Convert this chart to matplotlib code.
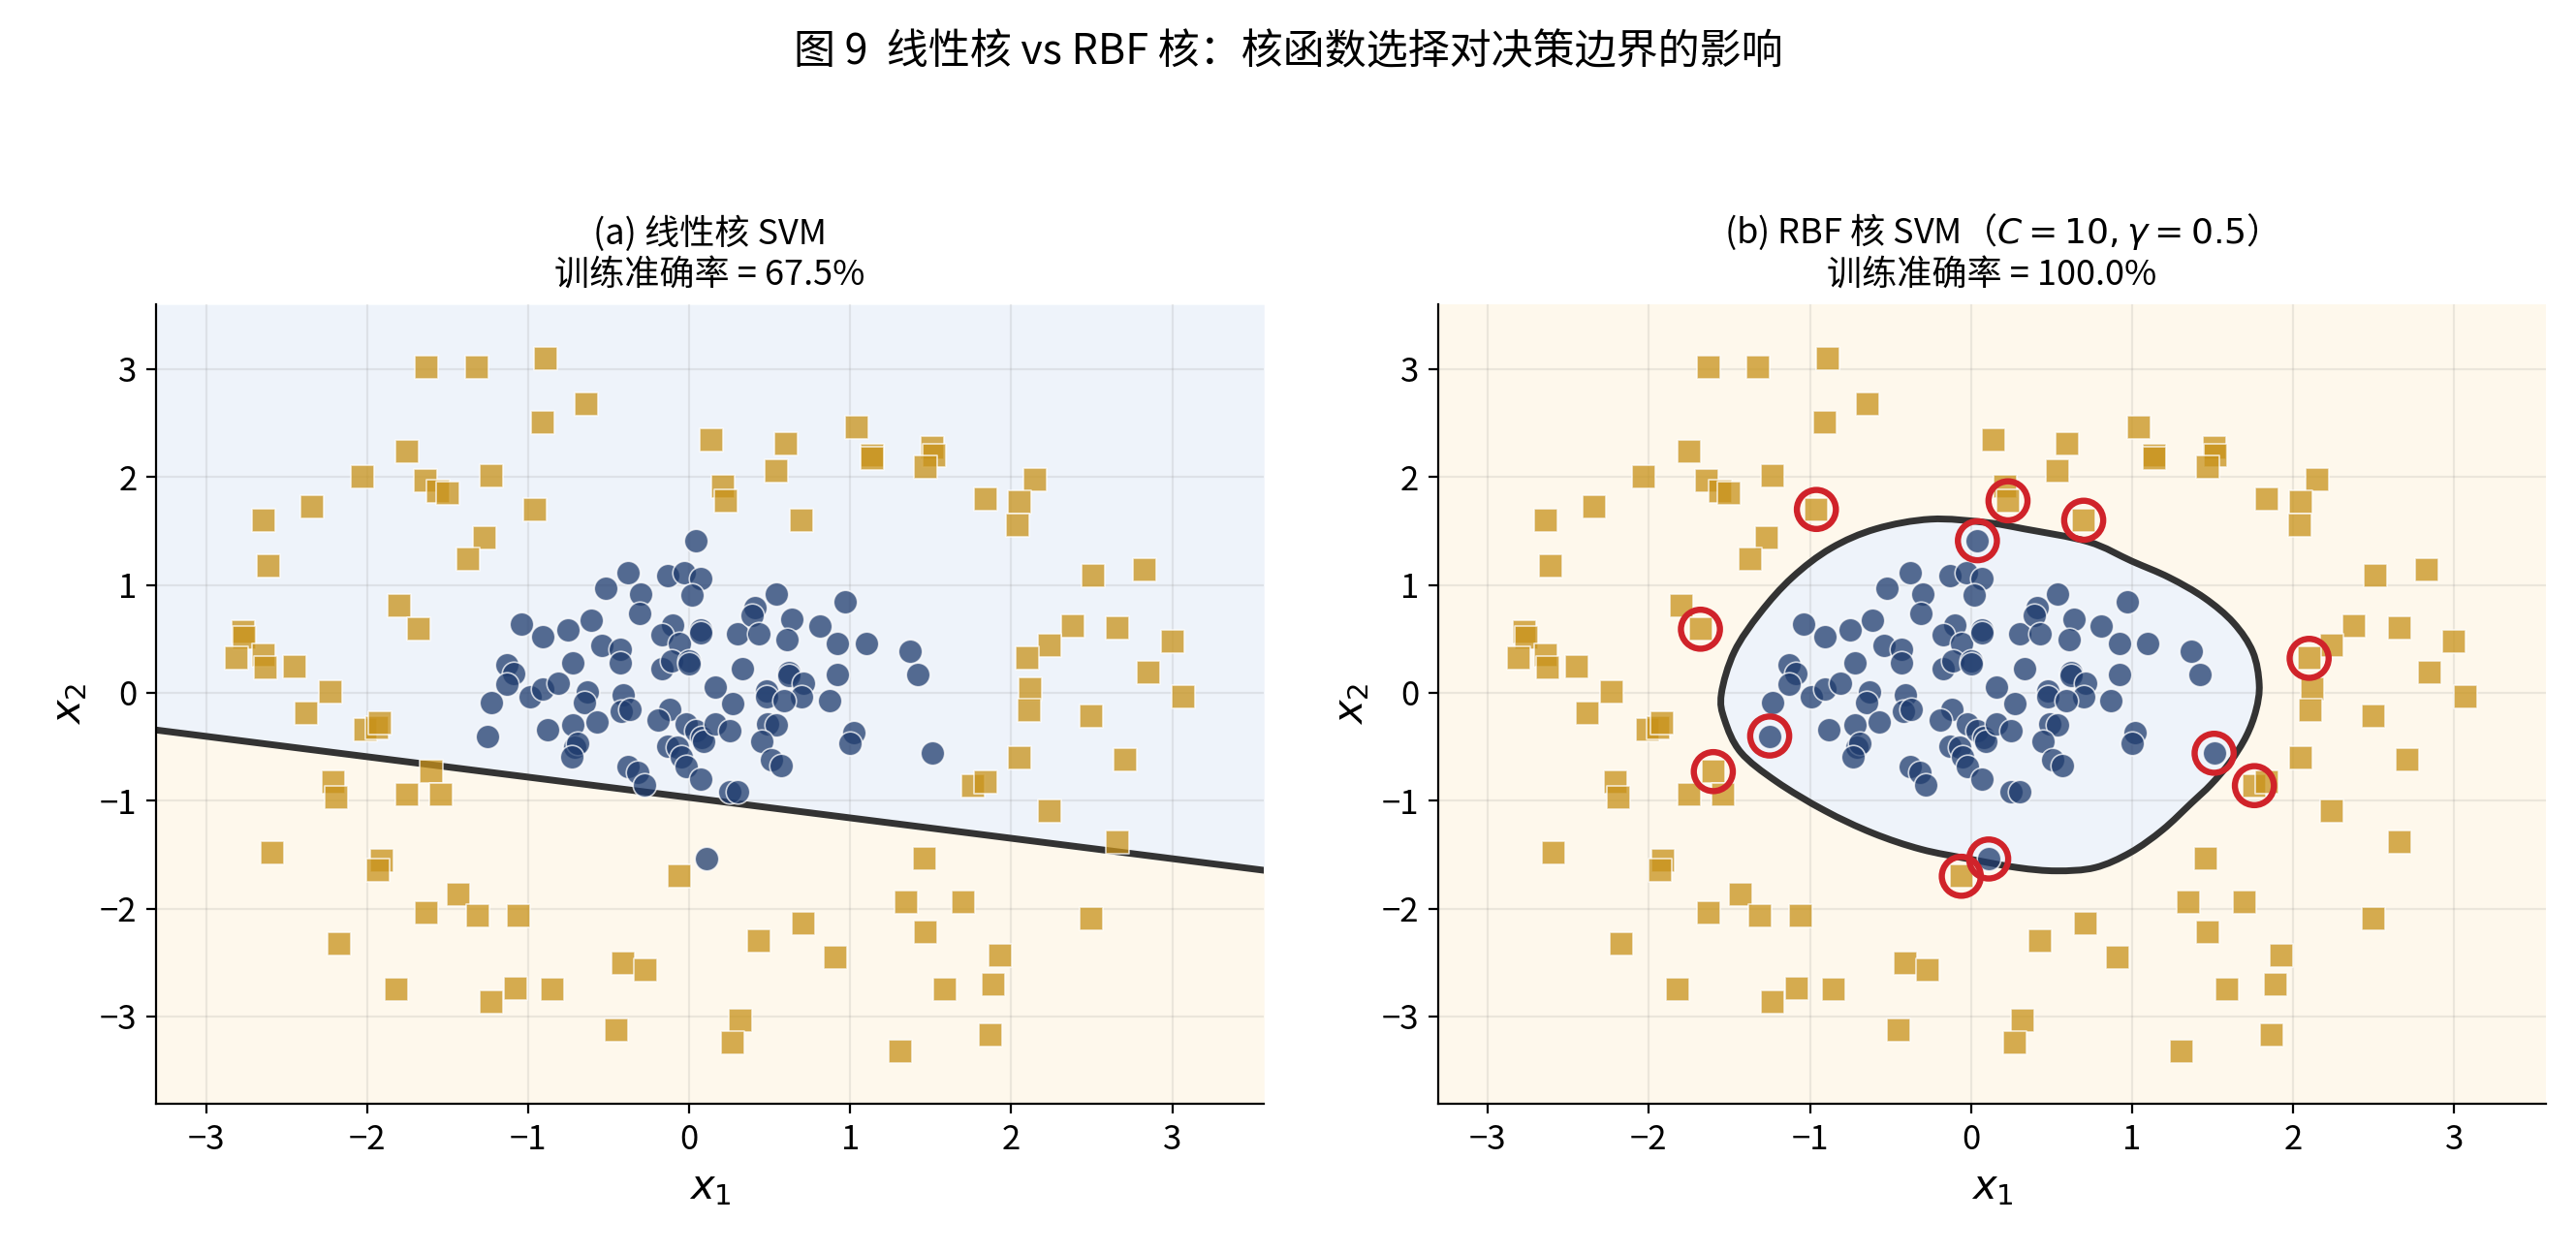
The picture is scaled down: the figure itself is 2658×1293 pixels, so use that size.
import numpy as np
import matplotlib.pyplot as plt
from matplotlib.path import Path
from matplotlib.patches import PathPatch

plt.rcParams['font.family'] = ['Noto Sans CJK SC', 'DejaVu Sans']
plt.rcParams['axes.unicode_minus'] = True

# 内圈样本（类别 +1，圆点）
inner_x = [-1.04, -0.91, -1.13, -1.09, -1.13, -1.23, -0.99, -1.25, -0.91, -0.81,
           0.04, -0.38, -0.13, -0.03, 0.07, 0.02, -0.52, -0.30, -0.31, -0.75,
           -0.61, -0.54, -0.43, -0.43, -0.72, -0.63, -0.65, -0.41, -0.10, -0.17,
           -0.06, -0.17, -0.11, 0.00, 0.00, 0.07, 0.07, 0.16, 0.27, -0.12,
           0.30, 0.41, 0.39, 0.43, 0.54, 0.64, 0.61, 0.33, 0.62, 0.62,
           0.71, 0.48, 0.48, 0.70, 0.59, 0.87, 0.81, 0.92, 0.97, 1.10,
           0.92, 1.37, 1.42, -0.42, -0.37, -0.88, -0.72, -0.57, -0.71, -0.69,
           -0.73, -0.38, -0.32, -0.28, -0.19, -0.13, -0.07, -0.05, -0.02, -0.02,
           0.04, 0.08, 0.09, 0.16, 0.25, 0.07, 0.25, 0.30, 0.49, 0.54,
           0.45, 0.51, 0.57, 1.02, 1.00, 0.11, 1.51]
inner_y = [0.64, 0.52, 0.26, 0.18, 0.08, -0.09, -0.04, -0.40, 0.04, 0.09,
           1.41, 1.11, 1.09, 1.11, 1.06, 0.91, 0.97, 0.92, 0.74, 0.58,
           0.67, 0.44, 0.40, 0.28, 0.28, 0.01, -0.09, -0.02, 0.63, 0.54,
           0.46, 0.22, 0.30, 0.30, 0.27, 0.58, 0.56, 0.05, -0.10, -0.15,
           0.55, 0.79, 0.72, 0.55, 0.92, 0.68, 0.49, 0.22, 0.19, 0.16,
           0.09, 0.02, -0.04, -0.04, -0.07, -0.07, 0.62, 0.46, 0.84, 0.46,
           0.17, 0.39, 0.17, -0.17, -0.15, -0.34, -0.30, -0.27, -0.50, -0.47,
           -0.59, -0.68, -0.74, -0.85, -0.25, -0.49, -0.50, -0.59, -0.68, -0.29,
           -0.35, -0.41, -0.45, -0.29, -0.35, -0.80, -0.92, -0.92, -0.29, -0.30,
           -0.45, -0.62, -0.67, -0.37, -0.47, -1.54, -0.56]

# 外环样本（类别 -1，方块）
outer_x = [-1.63, -1.32, -0.89, -0.91, -1.75, -2.03, -1.64, -1.56, -1.50, -1.23,
           -2.34, -2.64, -2.61, -0.96, -1.27, -1.37, -1.80, -1.68, -2.77, -2.76,
           -2.81, -2.64, -2.63, -2.45, -2.23, -0.64, 0.14, 0.21, 0.23, 0.60,
           0.54, 0.70, 1.04, 1.14, 1.14, 1.51, 1.52, 1.47, 1.84, 2.15,
           2.05, 2.04, 2.51, 2.83, 2.38, 2.66, 2.24, 2.10, 3.00, 2.85,
           2.12, 2.11, 3.07, 2.50, -2.38, -2.01, -1.94, -1.92, -1.60, -2.21,
           -2.19, -1.75, -1.54, -2.59, -1.91, -1.93, -1.43, -1.63, -1.31, -1.06,
           -2.17, -1.82, -1.23, -1.08, -0.85, -0.06, -0.41, -0.27, -0.45, 0.32,
           0.27, 0.43, 0.71, 0.91, 1.31, 2.05, 2.71, 1.76, 1.84, 2.24,
           2.66, 1.46, 1.35, 1.70, 1.47, 2.50, 1.93, 1.89, 1.59, 1.87]
outer_y = [3.02, 3.02, 3.10, 2.51, 2.24, 2.00, 1.97, 1.87, 1.85, 2.01,
           1.72, 1.60, 1.18, 1.70, 1.44, 1.24, 0.81, 0.59, 0.57, 0.51,
           0.32, 0.35, 0.23, 0.24, 0.01, 2.68, 2.34, 1.91, 1.78, 2.31,
           2.06, 1.60, 2.46, 2.20, 2.17, 2.27, 2.20, 2.09, 1.80, 1.98,
           1.77, 1.55, 1.09, 1.14, 0.62, 0.60, 0.44, 0.32, 0.48, 0.19,
           0.04, -0.16, -0.04, -0.22, -0.19, -0.34, -0.32, -0.28, -0.73, -0.83,
           -0.97, -0.94, -0.94, -1.48, -1.55, -1.64, -1.87, -2.04, -2.07, -2.07,
           -2.33, -2.75, -2.87, -2.74, -2.75, -1.70, -2.51, -2.57, -3.13, -3.04,
           -3.24, -2.30, -2.14, -2.45, -3.32, -0.60, -0.62, -0.86, -0.83, -1.10,
           -1.38, -1.54, -1.94, -1.94, -2.22, -2.09, -2.43, -2.70, -2.75, -3.17]

# RBF 核的支持向量
sv_x = [-0.96, 0.23, 0.04, 0.70, -1.68, 2.10, -1.25, -1.60, 1.51, 1.76, 0.11, -0.06]
sv_y = [1.70, 1.78, 1.41, 1.60, 0.59, 0.32, -0.40, -0.73, -0.56, -0.86, -1.54, -1.70]

# 线性核决策边界 y = slope * x + intercept
lin_slope = -0.189
lin_intercept = -0.97

# RBF 核决策边界（从图中读取的轮廓点）
bnd_x = [-0.25, -0.59, -0.87, -1.11, -1.31, -1.47, -1.55, -1.53, -1.43, -1.21,
         -0.91, -0.61, -0.31, -0.01, 0.29, 0.53, 0.77, 0.99, 1.19, 1.37,
         1.49, 1.61, 1.71, 1.77, 1.79, 1.75, 1.63, 1.45, 1.23, 1.00,
         0.73, 0.33, 0.09]
bnd_y = [1.61, 1.52, 1.34, 1.07, 0.74, 0.38, -0.01, -0.25, -0.55, -0.82,
         -1.09, -1.30, -1.45, -1.54, -1.62, -1.65, -1.62, -1.48, -1.27, -1.02,
         -0.85, -0.64, -0.40, -0.16, 0.08, 0.38, 0.65, 0.88, 1.07, 1.22,
         1.40, 1.52, 1.58]

titles = ["(a) 线性核 SVM\n训练准确率 = 67.5%",
          "(b) RBF 核 SVM（$C=10,\\gamma=0.5$）\n训练准确率 = 100.0%"]

c_blue = '#1F3C6E'
c_gold = '#C8921A'
bg_blue = '#EEF3FA'
bg_gold = '#FEF8EC'
xlim = (-3.31, 3.57)
ylim = (-3.81, 3.60)

fig, axes = plt.subplots(1, 2, figsize=(13.29, 6.465), dpi=200)
fig.subplots_adjust(left=0.0606, right=0.9883, bottom=0.119, top=0.757, wspace=0.157)


def smooth_path(xs, ys):
    # 闭合的 Catmull-Rom 曲线转成贝塞尔路径
    pts = np.column_stack([xs, ys])
    n = len(pts)
    verts = [pts[0]]
    codes = [Path.MOVETO]
    for i in range(n):
        p0, p1, p2, p3 = pts[i - 1], pts[i], pts[(i + 1) % n], pts[(i + 2) % n]
        verts += [p1 + (p2 - p0) / 6, p2 - (p3 - p1) / 6, p2]
        codes += [Path.CURVE4] * 3
    verts.append(pts[0])
    codes.append(Path.CLOSEPOLY)
    return Path(verts, codes)


for ax, title in zip(axes, titles):
    ax.set_xlim(xlim)
    ax.set_ylim(ylim)
    ax.grid(True, color='gray', alpha=0.15, linewidth=0.8)
    ax.scatter(inner_x, inner_y, s=78, c=c_blue, alpha=0.75, marker='o',
               edgecolors='white', linewidths=0.6, zorder=3)
    ax.scatter(outer_x, outer_y, s=78, c=c_gold, alpha=0.75, marker='s',
               edgecolors='white', linewidths=0.6, zorder=3)
    ax.set_title(title, fontsize=13, pad=7, linespacing=1.25)
    ax.set_xlabel('$x_1$', fontsize=15)
    ax.set_ylabel('$x_2$', fontsize=15)
    ax.set_xticks(range(-3, 4))
    ax.set_yticks(range(-3, 4))
    ax.tick_params(labelsize=12.5)
    for s in ['top', 'right']:
        ax.spines[s].set_visible(False)

# 左图：线性边界
ax = axes[0]
xs = np.array(xlim)
ys = lin_slope * xs + lin_intercept
ax.fill_between(xs, ys, ylim[1], color=bg_blue, linewidth=0, zorder=0)
ax.fill_between(xs, ylim[0], ys, color=bg_gold, linewidth=0, zorder=0)
ax.plot(xs, ys, color='#333333', linewidth=2.5, zorder=2.5)

# 右图：RBF 边界
ax = axes[1]
ax.set_facecolor(bg_gold)
path = smooth_path(bnd_x, bnd_y)
ax.add_patch(PathPatch(path, facecolor=bg_blue, edgecolor='none', zorder=0.5))
ax.add_patch(PathPatch(path, facecolor='none', edgecolor='#333333', linewidth=2.5, zorder=2.5))
ax.scatter(sv_x, sv_y, s=210, facecolors='none', edgecolors='#D0232A',
           linewidths=2.3, zorder=4)

fig.suptitle("图 9  线性核 vs RBF 核：核函数选择对决策边界的影响", fontsize=15.5, y=0.958, va='center')

fig.savefig('out.png', dpi=200)
